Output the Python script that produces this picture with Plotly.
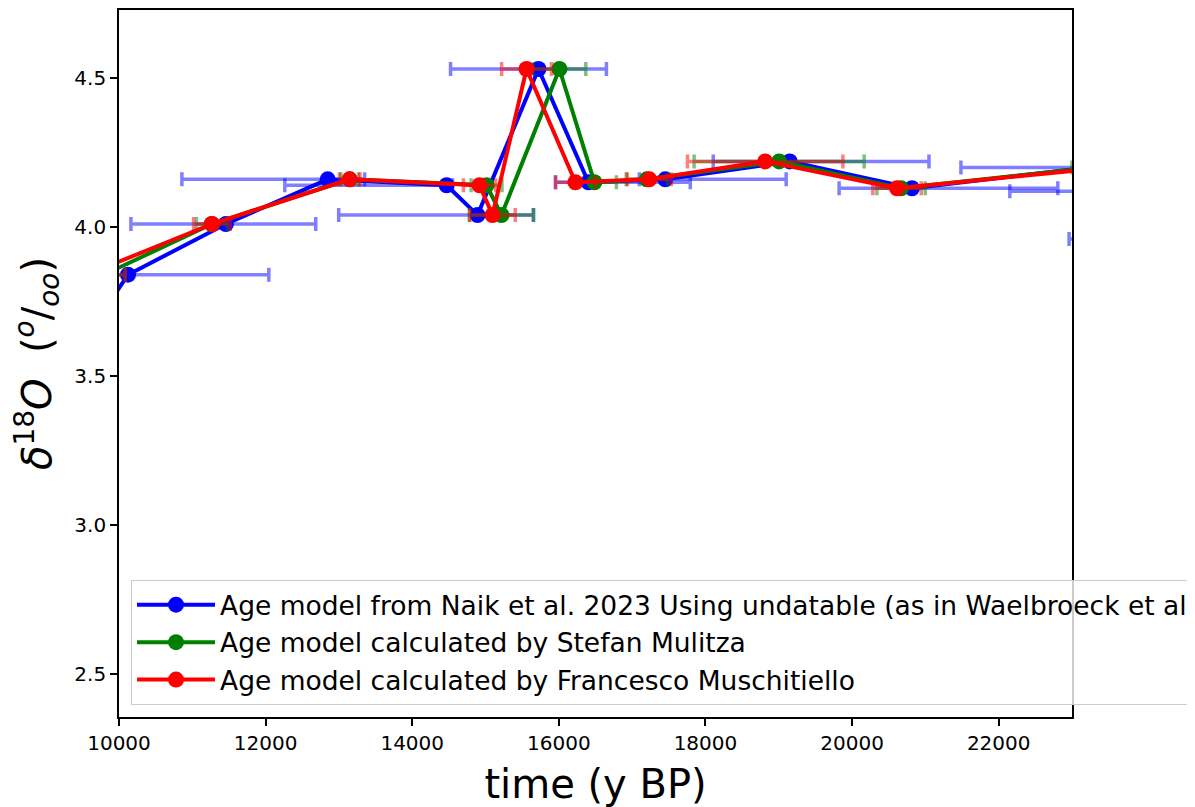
import plotly.graph_objects as go

# shared d18O values (same samples, three age models)
d18o = [3.50, 3.84, 4.01, 4.16, 4.14, 4.04, 4.53, 4.15, 4.16, 4.22, 4.13, 4.20, 4.12, 3.96]

# Naik et al. 2023 (undatable) ages and asymmetric uncertainty bounds
age_naik = [9200, 10123, 11458, 12847, 14469, 14891, 15722, 16403, 17452, 19150, 20817, 23250, 24300, 25000]
lo_naik  = [8900, 8200, 10163, 10858, 12262, 12997, 14523, 15954, 17098, 18106, 19823, 21485, 22152, 22960]
hi_naik  = [9500, 12044, 12684, 13351, 14550, 15650, 16649, 17793, 19101, 21049, 22807, 25000, 26000, 27000]

# Mulitza ages and symmetric uncertainty
age_mul = [8900, 9796, 11267, 13147, 15014, 15218, 16008, 16485, 17200, 19005, 20668, 23300, 24100, 24900]
err_mul = [300, 290, 210, 120, 210, 440, 360, 300, 280, 1160, 330, 300, 300, 300]

# Muschitiello ages and symmetric uncertainty
age_mus = [8700, 9564, 11267, 13147, 14918, 15095, 15559, 16226, 17234, 18815, 20613, 23481, 24200, 24800]
err_mus = [300, 520, 250, 140, 220, 310, 340, 270, 300, 1060, 330, 300, 300, 300]

names = [
    "Age model from Naik et al. 2023 Using undatable (as in Waelbroeck et al. 2019)",
    "Age model calculated by Stefan Mulitza",
    "Age model calculated by Francesco Muschitiello",
]
colors = ["#0000ff", "#008000", "#ff0000"]
errcolors = ["rgba(0,0,255,0.5)", "rgba(0,128,0,0.5)", "rgba(255,0,0,0.5)"]

FONT = "DejaVu Sans"

fig = go.Figure()

plus_naik = [h - a for a, h in zip(age_naik, hi_naik)]
minus_naik = [a - l for a, l in zip(age_naik, lo_naik)]

series = [
    (age_naik, dict(type="data", symmetric=False, array=plus_naik, arrayminus=minus_naik)),
    (age_mul, dict(type="data", symmetric=True, array=err_mul)),
    (age_mus, dict(type="data", symmetric=True, array=err_mus)),
]

for i, (ages, ex) in enumerate(series):
    ex.update(color=errcolors[i], thickness=3.5, width=7)
    fig.add_trace(go.Scatter(
        x=ages, y=d18o, mode="lines+markers", name=names[i],
        line=dict(color=colors[i], width=4),
        marker=dict(color=colors[i], size=16),
        error_x=ex, legendgroup=f"g{i}",
    ))

axis_common = dict(
    showline=True, linecolor="black", linewidth=1.7, mirror=True,
    ticks="outside", ticklen=7, tickwidth=1.5, tickcolor="black",
    showgrid=False, zeroline=False, automargin=False,
    tickfont=dict(family=FONT, size=20, color="black"),
)

fig.update_layout(
    width=1195, height=807,
    paper_bgcolor="white", plot_bgcolor="white",
    margin=dict(l=111, r=131, t=2, b=98, autoexpand=False),
    font=dict(family=FONT, color="black"),
    xaxis=dict(range=[10000, 23000], tickvals=[10000, 12000, 14000, 16000, 18000, 20000, 22000],
               tickformat="d",
               title=dict(text="time (y BP)", font=dict(family=FONT, size=40), standoff=16),
               **axis_common),
    yaxis=dict(range=[2.356, 4.728], tickvals=[2.5, 3.0, 3.5, 4.0, 4.5], tickformat=".1f",
               title=dict(text="<i>δ</i><sup>18</sup><i>O</i>  (<sup><i>o</i></sup>/<sub><i>oo</i></sub>)",
                          font=dict(family=FONT, size=40), standoff=18),
               **axis_common),
    legend=dict(x=0.0126, y=0.017, xanchor="left", yanchor="bottom",
                bgcolor="rgba(255,255,255,0.8)", bordercolor="#cccccc", borderwidth=1,
                font=dict(family=FONT, size=26.5, color="black"),
                tracegroupgap=0, itemwidth=78),
    showlegend=True,
)

fig.write_html("out.html")
